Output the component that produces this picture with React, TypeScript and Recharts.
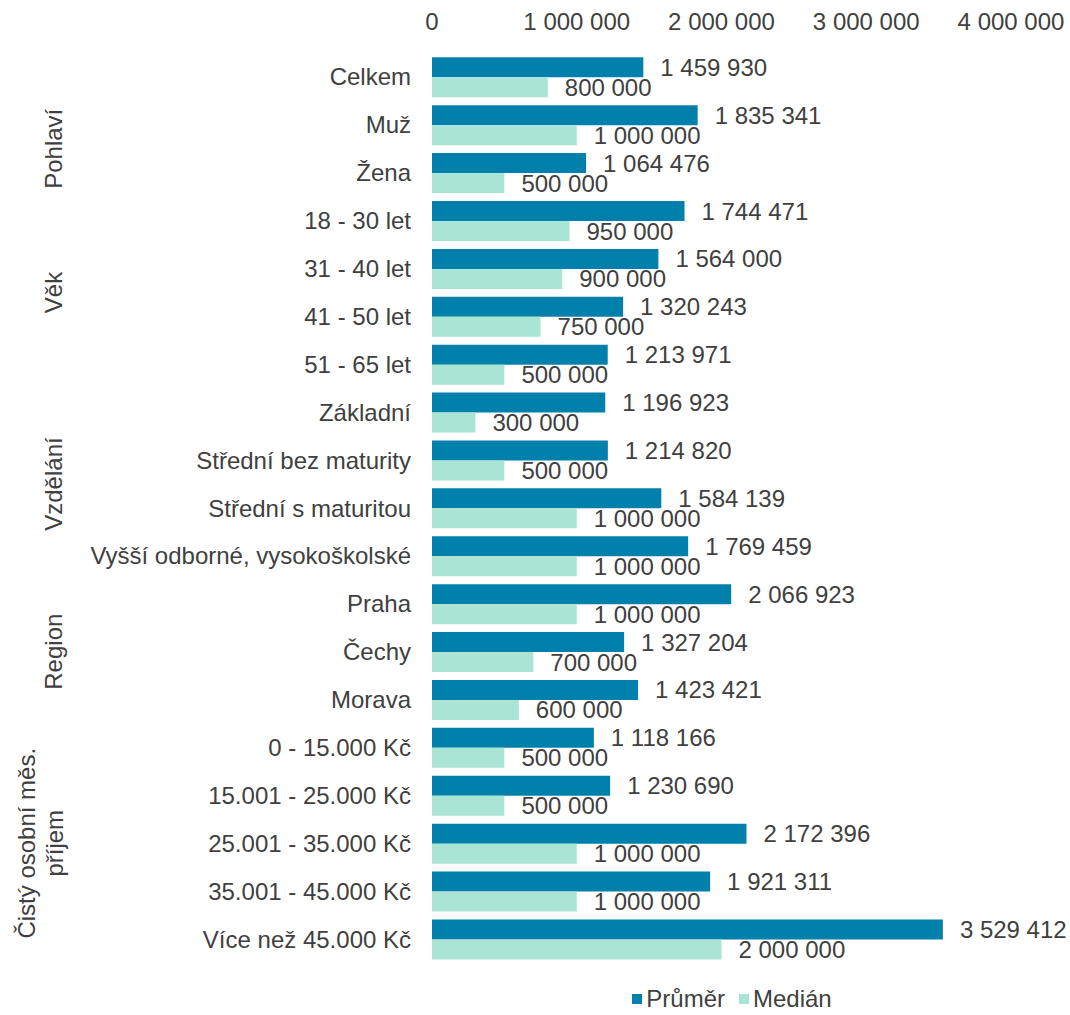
import React from "react";
import { BarChart, Bar, XAxis, YAxis, Legend, LabelList } from "recharts";

const categories = [
  "Celkem",
  "Muž",
  "Žena",
  "18 - 30 let",
  "31 - 40 let",
  "41 - 50 let",
  "51 - 65 let",
  "Základní",
  "Střední bez maturity",
  "Střední s maturitou",
  "Vyšší odborné, vysokoškolské",
  "Praha",
  "Čechy",
  "Morava",
  "0 - 15.000 Kč",
  "15.001 - 25.000 Kč",
  "25.001 - 35.000 Kč",
  "35.001 - 45.000 Kč",
  "Více než 45.000 Kč",
];

const prumer = [
  1459930, 1835341, 1064476, 1744471, 1564000, 1320243, 1213971, 1196923, 1214820, 1584139,
  1769459, 2066923, 1327204, 1423421, 1118166, 1230690, 2172396, 1921311, 3529412,
];

const median = [
  800000, 1000000, 500000, 950000, 900000, 750000, 500000, 300000, 500000, 1000000,
  1000000, 1000000, 700000, 600000, 500000, 500000, 1000000, 1000000, 2000000,
];

// group labels on the left: first category index + number of categories
const groups = [
  { lines: ["Pohlaví"], start: 1, size: 2 },
  { lines: ["Věk"], start: 3, size: 4 },
  { lines: ["Vzdělání"], start: 7, size: 4 },
  { lines: ["Region"], start: 11, size: 3 },
  { lines: ["Čistý osobní měs.", "příjem"], start: 14, size: 5 },
];

const xTicks = [0, 1000000, 2000000, 3000000, 4000000];

const data = categories.map((name, i) => ({ name, prumer: prumer[i], median: median[i] }));

const FONT = "'Liberation Sans', Arial, sans-serif";
const FS = 24;
const TEXT = "#404040";
const DARK = "#0080AA";
const LIGHT = "#A9E4D4";

const fmt = (v: any) => String(v).replace(/\B(?=(\d{3})+(?!\d))/g, " ");

function CategoryTick(props: any) {
  const { x, y, payload, index } = props;
  const half = typeof payload?.offset === "number" && payload.offset > 0 ? payload.offset : 23.95;
  const group = groups.find((g) => g.start === index);
  let groupEl = null;
  if (group) {
    const cy = y + (group.size - 1) * half;
    const n = group.lines.length;
    groupEl = group.lines.map((line, k) => {
      const cx = n === 1 ? 53 : 26 + k * 28;
      return (
        <text
          key={k}
          transform={`translate(${cx}, ${cy}) rotate(-90)`}
          textAnchor="middle"
          dominantBaseline="central"
          fill={TEXT}
          fontSize={FS}
          fontFamily={FONT}
        >
          {line}
        </text>
      );
    });
  }
  return (
    <g>
      <text x={x} y={y} dy="0.355em" textAnchor="end" fill={TEXT} fontSize={FS} fontFamily={FONT}>
        {payload.value}
      </text>
      {groupEl}
    </g>
  );
}

function LegendContent() {
  const items = [
    { label: "Průměr", color: DARK },
    { label: "Medián", color: LIGHT },
  ];
  return (
    <div
      style={{
        height: 46,
        boxSizing: "border-box",
        paddingTop: 26,
        display: "flex",
        justifyContent: "center",
        fontFamily: FONT,
        fontSize: FS,
        lineHeight: "24px",
        color: TEXT,
      }}
    >
      {items.map((it) => (
        <span key={it.label} style={{ display: "flex", alignItems: "center", margin: "0 7px" }}>
          <span style={{ width: 10, height: 10, background: it.color, marginRight: 4, display: "inline-block" }} />
          {it.label}
        </span>
      ))}
    </div>
  );
}

export default function App() {
  return (
    <div style={{ position: "absolute", left: 0, top: 0, background: "#fff" }}>
      <BarChart
        width={1070}
        height={1015}
        data={data}
        layout="vertical"
        margin={{ top: 13, right: 59, bottom: 6, left: 0 }}
        barCategoryGap="9%"
        barGap={0}
      >
        <XAxis
          type="number"
          orientation="top"
          domain={[0, 4000000]}
          ticks={xTicks}
          height={40}
          axisLine={false}
          tickLine={false}
          tickMargin={17}
          tickFormatter={fmt}
          tick={{ fill: TEXT, fontSize: FS, fontFamily: FONT }}
        />
        <YAxis
          type="category"
          dataKey="name"
          width={432}
          axisLine={false}
          tickLine={false}
          tickMargin={15}
          interval={0}
          tick={<CategoryTick />}
        />
        <Legend
          verticalAlign="bottom"
          content={<LegendContent />}
          wrapperStyle={{ left: 432, width: 600 }}
        />
        <Bar dataKey="prumer" name="Průměr" fill={DARK} isAnimationActive={false}>
          <LabelList
            dataKey="prumer"
            position="right"
            offset={17}
            formatter={fmt}
            fill={TEXT}
            fontSize={FS}
            fontFamily={FONT}
          />
        </Bar>
        <Bar dataKey="median" name="Medián" fill={LIGHT} isAnimationActive={false}>
          <LabelList
            dataKey="median"
            position="right"
            offset={17}
            formatter={fmt}
            fill={TEXT}
            fontSize={FS}
            fontFamily={FONT}
          />
        </Bar>
      </BarChart>
    </div>
  );
}
